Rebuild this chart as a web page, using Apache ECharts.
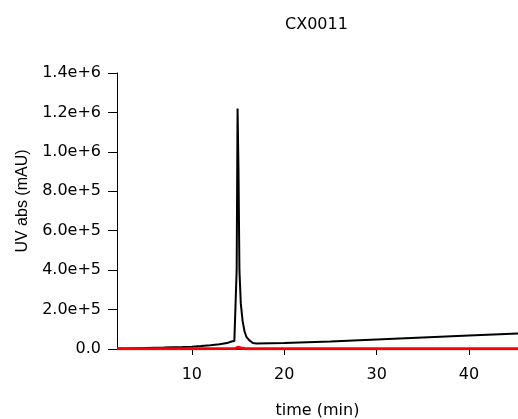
<!DOCTYPE html>
<html>
<head>
<meta charset="utf-8">
<script src="https://cdn.jsdelivr.net/npm/echarts@6/dist/echarts.min.js"></script>
<style>html,body{margin:0;padding:0;background:#fff}#c{width:518px;height:419px}</style>
</head>
<body>
<div id="c"></div>
<script>
const titleText = "CX0011";
const xName = "time (min)";
const yName = "UV abs (mAU)";
const xTicks = [10, 20, 30, 40];
const yTicks = [0, 200000, 400000, 600000, 800000, 1000000, 1200000, 1400000];

// Black trace (time in min, absorbance)
const blackTime = [1.9, 3, 5, 7, 9, 10, 11, 12, 13, 13.8, 14.3, 14.6, 14.75, 14.85, 14.95, 15.05, 15.15, 15.3, 15.5, 15.7, 15.9, 16.2, 16.6, 17, 20, 25, 30, 35, 40, 45.3];
const blackValue = [2000, 3000, 5000, 7000, 10000, 12000, 15000, 19000, 24000, 30000, 38000, 40000, 45000, 400000, 1220000, 900000, 400000, 230000, 140000, 90000, 62000, 45000, 30000, 28000, 31000, 38000, 48000, 58000, 68000, 78000];

// Red trace
const redTime = [1.9, 10, 14.7, 15.0, 15.3, 15.8, 30, 45.3];
const redValue = [1000, 1000, 2000, 9000, 5000, 1000, 1000, 1000];

const pair = (xs, ys) => xs.map((x, i) => [x, ys[i]]);
const fmtY = v => v === 0 ? "0.0" : v.toExponential(1);

const chart = echarts.init(document.getElementById('c'), null, {renderer: 'canvas'});
chart.setOption({
  animation: false,
  backgroundColor: '#ffffff',
  title: {
    text: titleText,
    left: 280, top: 12,
    textStyle: {fontFamily: 'DejaVu Sans', fontSize: 16, fontWeight: 'normal', color: '#000'}
  },
  grid: {left: 117, right: 0, top: 73, bottom: 70, containLabel: false, outerBoundsMode: 'none'},
  xAxis: {
    type: 'value', min: 1.9, max: 45.3,
    name: xName, nameLocation: 'middle', nameGap: 54,
    nameTextStyle: {fontFamily: 'DejaVu Sans', fontSize: 16, color: '#000'},
    axisLine: {show: true, lineStyle: {color: '#000', width: 1}},
    axisTick: {show: true, customValues: xTicks, length: 6, lineStyle: {color: '#000'}},
    axisLabel: {customValues: xTicks, margin: 18, fontFamily: 'DejaVu Sans', fontSize: 16, color: '#000'},
    splitLine: {show: false}
  },
  yAxis: {
    type: 'value', min: 0, max: 1400000, interval: 200000,
    name: yName, nameLocation: 'middle', nameGap: 86, nameRotate: 90,
    nameTextStyle: {fontFamily: 'Liberation Sans', fontSize: 16, color: '#000', padding: [0, 0, 0, 20]},
    axisLine: {show: true, lineStyle: {color: '#000', width: 1}},
    axisTick: {show: true, length: 9, lineStyle: {color: '#000'}},
    axisLabel: {margin: 16, formatter: fmtY, fontFamily: 'DejaVu Sans', fontSize: 16, color: '#000'},
    splitLine: {show: false}
  },
  series: [
    {type: 'line', data: pair(blackTime, blackValue), symbol: 'none', lineStyle: {color: '#000', width: 2}, z: 2},
    {type: 'line', data: pair(redTime, redValue), symbol: 'none', lineStyle: {color: '#ff0000', width: 3}, z: 3}
  ]
});
</script>
</body>
</html>
